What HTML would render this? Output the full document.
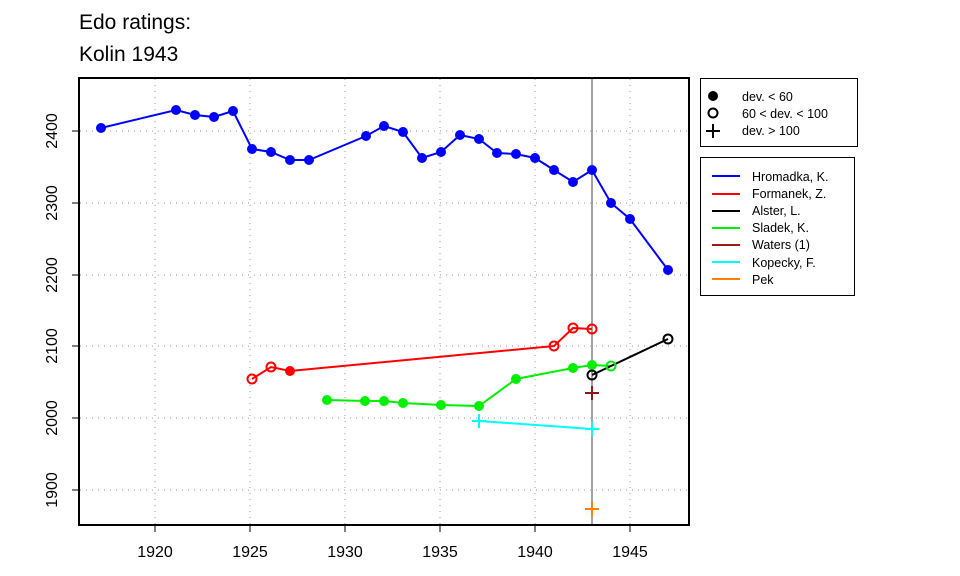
<!DOCTYPE html>
<html><head><meta charset="utf-8"><style>body{margin:0;background:#fff}svg{display:block;font-family:"Liberation Sans",sans-serif}</style></head>
<body>
<svg width="960" height="576" viewBox="0 0 960 576" xmlns="http://www.w3.org/2000/svg">
<rect width="960" height="576" fill="#fff"/>
<text x="79" y="29" font-size="21">Edo ratings:</text>
<text x="79" y="61" font-size="21">Kolin 1943</text>
<g stroke="#999" stroke-width="1" stroke-dasharray="1,5">
<line x1="155" y1="79" x2="155" y2="524"/><line x1="250" y1="79" x2="250" y2="524"/><line x1="345" y1="79" x2="345" y2="524"/><line x1="440" y1="79" x2="440" y2="524"/><line x1="535" y1="79" x2="535" y2="524"/><line x1="630" y1="79" x2="630" y2="524"/>
<line x1="80" y1="131" x2="688" y2="131"/><line x1="80" y1="203" x2="688" y2="203"/><line x1="80" y1="275" x2="688" y2="275"/><line x1="80" y1="346" x2="688" y2="346"/><line x1="80" y1="418" x2="688" y2="418"/><line x1="80" y1="490" x2="688" y2="490"/>
</g>
<line x1="592" y1="78" x2="592" y2="525" stroke="#444" stroke-width="1"/>
<g fill="none" stroke-width="2">
<polyline stroke="#0000ff" points="101,128 176,110 195,115 214,117 233,111 252,149 271,152 290,160 309,160 366,136 384,126 403,132 422,158 441,152 460,135 479,139 497,153 516,154 535,158 554,170 573,182 592,170 611,203 630,219 668,270"/>
<polyline stroke="#ff0000" points="252,379 271,367 290,371 554,346 573,328 592,329"/>
<polyline stroke="#00ee00" points="327,400 365,401 384,401 403,403 441,405 479,406 516,379 573,368 592,365 611,366"/>
<polyline stroke="#000" points="592,375 668,339"/>
<polyline stroke="#00ffff" points="479,421 592,429"/>
</g>
<g fill="#0000ff">
<circle cx="101" cy="128" r="5"/><circle cx="176" cy="110" r="5"/><circle cx="195" cy="115" r="5"/><circle cx="214" cy="117" r="5"/><circle cx="233" cy="111" r="5"/><circle cx="252" cy="149" r="5"/><circle cx="271" cy="152" r="5"/><circle cx="290" cy="160" r="5"/><circle cx="309" cy="160" r="5"/><circle cx="366" cy="136" r="5"/><circle cx="384" cy="126" r="5"/><circle cx="403" cy="132" r="5"/><circle cx="422" cy="158" r="5"/><circle cx="441" cy="152" r="5"/><circle cx="460" cy="135" r="5"/><circle cx="479" cy="139" r="5"/><circle cx="497" cy="153" r="5"/><circle cx="516" cy="154" r="5"/><circle cx="535" cy="158" r="5"/><circle cx="554" cy="170" r="5"/><circle cx="573" cy="182" r="5"/><circle cx="592" cy="170" r="5"/><circle cx="611" cy="203" r="5"/><circle cx="630" cy="219" r="5"/><circle cx="668" cy="270" r="5"/>
</g>
<g fill="#00ee00">
<circle cx="327" cy="400" r="5"/><circle cx="365" cy="401" r="5"/><circle cx="384" cy="401" r="5"/><circle cx="403" cy="403" r="5"/><circle cx="441" cy="405" r="5"/><circle cx="479" cy="406" r="5"/><circle cx="516" cy="379" r="5"/><circle cx="573" cy="368" r="5"/><circle cx="592" cy="365" r="5"/>
</g>
<circle cx="611" cy="366" r="4.5" fill="none" stroke="#00ee00" stroke-width="2"/>
<circle cx="290" cy="371" r="5" fill="#ff0000"/>
<g fill="none" stroke="#ff0000" stroke-width="2">
<circle cx="252" cy="379" r="4.5"/><circle cx="271" cy="367" r="4.5"/><circle cx="554" cy="346" r="4.5"/><circle cx="573" cy="328" r="4.5"/><circle cx="592" cy="329" r="4.5"/>
</g>
<g fill="none" stroke="#000" stroke-width="2"><circle cx="592" cy="375" r="4.5"/><circle cx="668" cy="339" r="4.5"/></g>
<g stroke-width="2">
<path d="M585,393h14M592,386v14" stroke="#8b1a1a"/>
<path d="M472,421h14M479,414v14M585,429h14M592,422v14" stroke="#00ffff"/>
<path d="M585,509h14M592,502v14" stroke="#ff7f00"/>
</g>
<rect x="79" y="78" width="610" height="447" fill="none" stroke="#000" stroke-width="2"/>
<g stroke="#000" stroke-width="1">
<line x1="155" y1="525" x2="630" y2="525"/>
<line x1="155" y1="525" x2="155" y2="532"/><line x1="250" y1="525" x2="250" y2="532"/><line x1="345" y1="525" x2="345" y2="532"/><line x1="440" y1="525" x2="440" y2="532"/><line x1="535" y1="525" x2="535" y2="532"/><line x1="630" y1="525" x2="630" y2="532"/>
<line x1="72" y1="131" x2="79" y2="131"/><line x1="72" y1="203" x2="79" y2="203"/><line x1="72" y1="275" x2="79" y2="275"/><line x1="72" y1="346" x2="79" y2="346"/><line x1="72" y1="418" x2="79" y2="418"/><line x1="72" y1="490" x2="79" y2="490"/>
</g>
<g font-size="16" text-anchor="middle">
<text x="155" y="557">1920</text><text x="250" y="557">1925</text><text x="345" y="557">1930</text><text x="440" y="557">1935</text><text x="535" y="557">1940</text><text x="630" y="557">1945</text>
<text transform="translate(57,131) rotate(-90)">2400</text><text transform="translate(57,203) rotate(-90)">2300</text><text transform="translate(57,275) rotate(-90)">2200</text><text transform="translate(57,346) rotate(-90)">2100</text><text transform="translate(57,418) rotate(-90)">2000</text><text transform="translate(57,490) rotate(-90)">1900</text>
</g>
<rect x="700.5" y="78.5" width="157" height="68" fill="none" stroke="#000" stroke-width="1"/>
<circle cx="713" cy="96" r="5" fill="#000"/>
<circle cx="713" cy="113" r="4.5" fill="none" stroke="#000" stroke-width="2"/>
<path d="M706,131h14M713,124v14" stroke="#000" stroke-width="2"/>
<g font-size="12.5"><text x="742" y="101">dev. &lt; 60</text><text x="742" y="118">60 &lt; dev. &lt; 100</text><text x="742" y="135">dev. &gt; 100</text></g>
<rect x="700.5" y="157.5" width="154" height="138" fill="none" stroke="#000" stroke-width="1"/>
<g stroke-width="2">
<line x1="712" y1="176" x2="740" y2="176" stroke="#0000ff"/>
<line x1="712" y1="194" x2="740" y2="194" stroke="#ff0000"/>
<line x1="712" y1="211" x2="740" y2="211" stroke="#000"/>
<line x1="712" y1="228" x2="740" y2="228" stroke="#00ee00"/>
<line x1="712" y1="245" x2="740" y2="245" stroke="#a01818"/>
<line x1="712" y1="262" x2="740" y2="262" stroke="#00ffff"/>
<line x1="712" y1="279" x2="740" y2="279" stroke="#ff7f00"/>
</g>
<g font-size="12.5">
<text x="752" y="181">Hromadka, K.</text><text x="752" y="198">Formanek, Z.</text><text x="752" y="215">Alster, L.</text><text x="752" y="232">Sladek, K.</text><text x="752" y="249">Waters (1)</text><text x="752" y="267">Kopecky, F.</text><text x="752" y="284">Pek</text>
</g>
</svg>
</body></html>
